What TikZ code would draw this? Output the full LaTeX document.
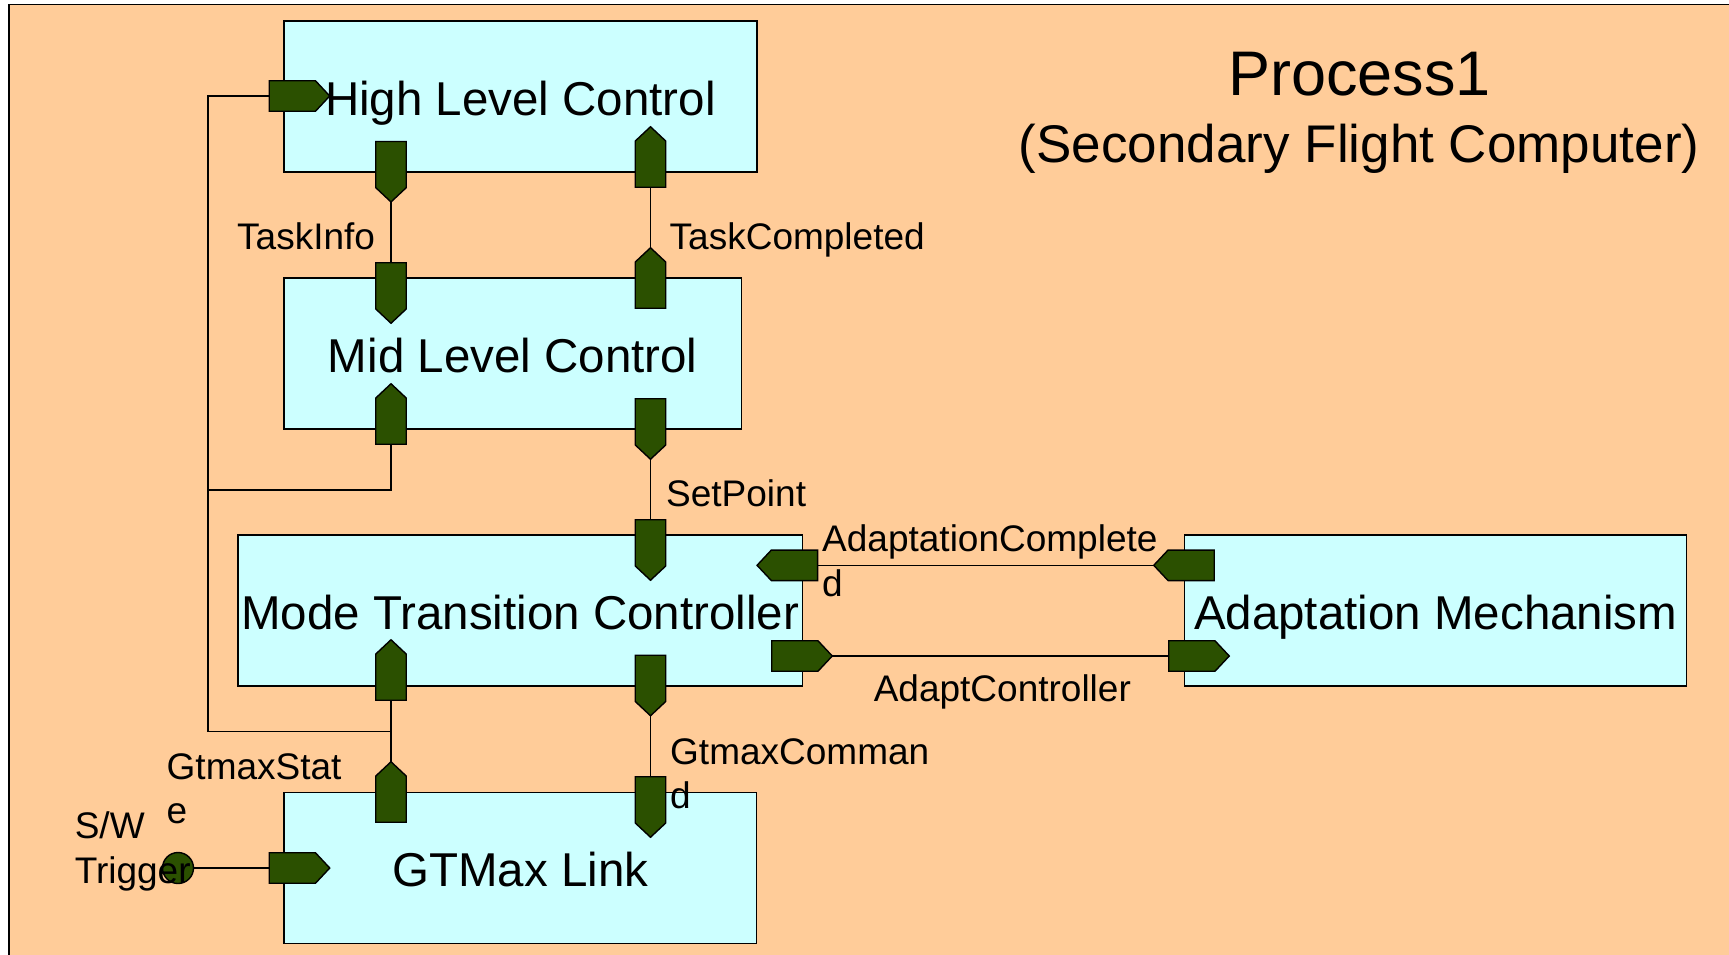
\documentclass[tikz,border=0pt]{standalone}
\usepackage{fontspec}
\setmainfont{Liberation Sans}
\definecolor{peach}{HTML}{FFCC99}
\definecolor{cyanbox}{HTML}{CCFFFF}
\definecolor{portgreen}{HTML}{2B5000}

% port outlines drawn on top of a named port node
\newcommand\portdown[1]{\draw[portline] (#1.north west) -- (#1.north east) -- ([yshift=14.3pt]#1.south east) -- (#1.south) -- ([yshift=14.3pt]#1.south west) -- cycle;}
\newcommand\portup[1]{\draw[portline] (#1.south west) -- (#1.south east) -- ([yshift=-14.3pt]#1.north east) -- (#1.north) -- ([yshift=-14.3pt]#1.north west) -- cycle;}
\newcommand\portright[1]{\draw[portline] (#1.north west) -- ([xshift=-14.3pt]#1.north east) -- (#1.east) -- ([xshift=-14.3pt]#1.south east) -- (#1.south west) -- cycle;}
\newcommand\portleft[1]{\draw[portline] (#1.north east) -- ([xshift=14.3pt]#1.north west) -- (#1.west) -- ([xshift=14.3pt]#1.south west) -- (#1.south east) -- cycle;}

\tikzset{
  box/.style={draw=black, line width=1.6pt, fill=cyanbox, minimum height=151pt, inner sep=0pt, outer sep=0pt},
  boxtext/.style={font=\fontsize{47.5}{57}\selectfont, text height=38pt, text depth=0pt, inner sep=0pt},
  portv/.style={minimum width=30.5pt, minimum height=60.5pt, inner sep=0pt, outer sep=0pt},
  porth/.style={minimum width=60.5pt, minimum height=30.5pt, inner sep=0pt, outer sep=0pt},
  portline/.style={draw=black, line width=1.4pt, fill=portgreen, line join=miter},
  wire/.style={line width=1.5pt},
  lbl/.style={font=\fontsize{37}{44}\selectfont, anchor=base west, inner sep=0pt},
}

\begin{document}
\begin{tikzpicture}[x=1pt, y=-1pt]
\useasboundingbox (0,0) rectangle (1729,954);
\clip (0,0) rectangle (1729,954);
\fill[white] (0,0) rectangle (1729,954);

% process frame
\draw[fill=peach, line width=1.5pt] (8.8,4.4) rectangle (1745,970);

% title
\node[font=\fontsize{63}{75}\selectfont, anchor=base, inner sep=0pt] (title) at (1359.3,95) {Process1};
\node[font=\fontsize{53}{64}\selectfont, anchor=base, inner sep=0pt] (subtitle) at (1359.2,162) {(Secondary Flight Computer)};

% components
\node[box, minimum width=473pt] (hlc) at (520.5,96.5) {};
\node[box, minimum width=457.5pt] (mlc) at (512.75,353.4) {};
\node[box, minimum width=564.5pt] (mtc) at (520.25,610.5) {};
\node[box, minimum width=502pt] (am) at (1435.6,610.2) {};
\node[box, minimum width=472.6pt] (gt) at (520.3,867.8) {};

% port nodes
\node[portv] (p1) at (391,171.7) {};
\node[portv] (p2) at (650.5,157) {};
\node[portv] (p3) at (391,293) {};
\node[portv] (p4) at (650.5,278) {};
\node[portv] (p5) at (391,414) {};
\node[portv] (p6) at (650.5,429) {};
\node[portv] (p7) at (650.5,550) {};
\node[portv] (p8) at (391,670) {};
\node[portv] (p9) at (650.5,685.5) {};
\node[portv] (p10) at (391,792) {};
\node[portv] (p11) at (650.5,807) {};
\node[porth] (h1) at (299.5,96) {};
\node[porth] (h2) at (299.5,868) {};
\node[porth] (h3) at (787.3,565.3) {};
\node[porth] (h4) at (802,656) {};
\node[porth] (h5) at (1184,565.3) {};
\node[porth] (h6) at (1199,656) {};

\node[circle, draw=black, line width=1.4pt, fill=portgreen, minimum size=31pt, inner sep=0pt] (trig) at (178,868) {};

% connectors
\coordinate (busA) at (208,490);
\coordinate (busB) at (208,731.7);
\draw[wire] (p1.south) -- (p3.north);
\draw[wire] (p2.south) -- (p4.north);
\draw[wire] (p6.south) -- (p7.north);
\draw[wire] (p9.south) -- (p11.north);
\draw[wire] (p8.south) -- (p10.north);
\draw[wire] (h1.west) -| (busB) -- (busB -| p8.south);
\draw[wire] (p5.south) |- (busA);
\draw[wire] (h3.east) -- (h5.west);
\draw[wire] (h4.east) -- (h6.west);
\draw[wire] (trig.east) -- (h2.west);

% port shapes
\portdown{p1}
\portup{p2}
\portdown{p3}
\portup{p4}
\portup{p5}
\portdown{p6}
\portdown{p7}
\portup{p8}
\portdown{p9}
\portup{p10}
\portdown{p11}
\portright{h1}
\portright{h2}
\portleft{h3}
\portright{h4}
\portleft{h5}
\portright{h6}

% component names
\node[boxtext] (hlct) at (hlc) {High Level Control};
\node[boxtext] (mlct) at (mlc) {Mid Level Control};
\node[boxtext] (mtct) at (mtc) {Mode Transition Controller};
\node[boxtext] (amt) at (am) {Adaptation Mechanism};
\node[boxtext] (gtt) at (gt) {GTMax Link};

% signal names
\node[lbl] (l1) at (237,249) {TaskInfo};
\node[lbl] (l2) at (669.5,249) {TaskCompleted};
\node[lbl] (l3) at (666,506.7) {SetPoint};
\node[lbl] (l4a) at (822,551.7) {AdaptationComplete};
\node[lbl] (l4b) at (822,596) {d};
\node[lbl] (l5) at (873.6,701.7) {AdaptController};
\node[lbl] (l6a) at (670,764) {GtmaxComman};
\node[lbl] (l6b) at (670,808) {d};
\node[lbl] (l7a) at (166.5,779) {GtmaxStat};
\node[lbl] (l7b) at (166.5,823) {e};
\node[lbl] (l8a) at (74.6,838) {S/W};
\node[lbl] (l8b) at (74.6,883) {Trigger};
\end{tikzpicture}
\end{document}
